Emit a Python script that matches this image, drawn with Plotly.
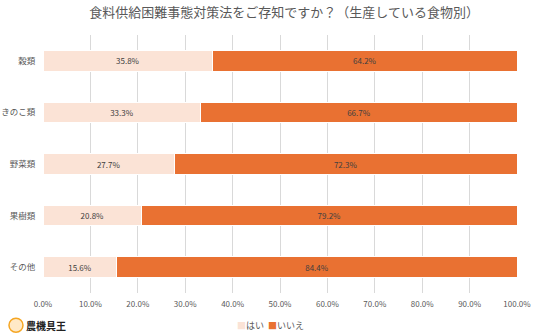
import plotly.graph_objects as go

categories = ["穀類", "きのこ類", "野菜類", "果樹類", "その他"]
yes_vals = [35.8, 33.3, 27.7, 20.8, 15.6]
no_vals = [64.2, 66.7, 72.3, 79.2, 84.4]
series_names = ["はい", "いいえ"]
colors = ["#FBE3D6", "#E97132"]
title = "食料供給困難事態対策法をご存知ですか？（生産している食物別）"

FONT = "Noto Sans CJK JP"
fig = go.Figure()
for name, vals, col in zip(series_names, [yes_vals, no_vals], colors):
    fig.add_trace(go.Bar(y=categories, x=vals, name=name, orientation="h",
                         marker=dict(color=col, line=dict(color="#ffffff", width=1)),
                         texttemplate="%{x:.1f}%", textposition="inside",
                         insidetextanchor="middle", showlegend=False,
                         textfont=dict(size=8, color="#404040", family=FONT)))

fig.update_layout(
    width=536, height=333,
    margin=dict(l=43, r=19, t=35, b=40, autoexpand=False),
    barmode="stack", bargap=0.6,
    plot_bgcolor="white", paper_bgcolor="white",
    font=dict(family=FONT, color="#595959"),
    title=dict(text=title, x=0.53, xanchor="center", y=0.962, yanchor="middle",
               font=dict(size=13, color="#595959", family=FONT)),
    xaxis=dict(range=[0, 100], dtick=10, tickformat=".1f", ticksuffix="%",
               showgrid=True, gridcolor="#d9d9d9", gridwidth=1, zeroline=False,
               tickfont=dict(size=8, color="#595959"), ticks="outside", ticklen=3,
               tickcolor="rgba(0,0,0,0)", automargin=False,
               showline=False, fixedrange=True),
    yaxis=dict(autorange="reversed", tickfont=dict(size=8.5, color="#595959"),
               ticks="outside", ticklen=5, tickcolor="rgba(0,0,0,0)", showgrid=False,
               automargin=False),
    showlegend=False,
)
# legend built from series names/colors
legend_x = [0.405, 0.47]
for name, col, lx in zip(series_names, colors, legend_x):
    fig.add_annotation(text=f"<span style='color:{col}'>■</span>{name}",
                       xref="paper", yref="paper", x=lx, y=-0.125,
                       xanchor="left", yanchor="middle", showarrow=False,
                       font=dict(size=9, color="#595959", family=FONT))

fig.add_annotation(text="<b>農機具王</b>", xref="paper", yref="paper",
                   x=-0.04, y=-0.125, xanchor="left", yanchor="middle",
                   showarrow=False, font=dict(size=10, color="#222222", family=FONT))
fig.add_shape(type="circle", xref="paper", yref="paper",
              xsizemode="pixel", ysizemode="pixel", xanchor=-0.057, yanchor=-0.125,
              x0=-7, x1=7, y0=-7, y1=7,
              line=dict(color="#F5A623", width=1.5), fillcolor="#FFE9C7")

fig.write_html("out.html")
